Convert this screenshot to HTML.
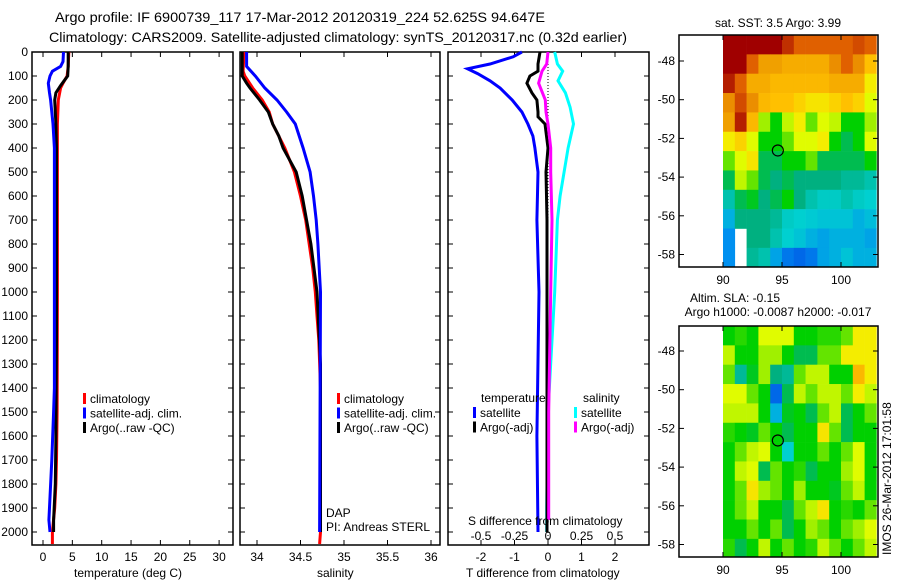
<!DOCTYPE html>
<html><head><meta charset="utf-8"><style>
body{margin:0;background:#fff;}
svg{display:block;font-family:"Liberation Sans",sans-serif;font-size:12px;}
</style></head><body>
<svg id="fig" width="900" height="580" viewBox="0 0 900 580" xmlns="http://www.w3.org/2000/svg">
<rect width="900" height="580" fill="#fff"/>
<text x="55" y="22" font-size="14" textLength="490" lengthAdjust="spacingAndGlyphs">Argo profile: IF 6900739_117 17-Mar-2012 20120319_224 52.625S 94.647E</text>
<text x="49" y="42" font-size="14" textLength="578" lengthAdjust="spacingAndGlyphs">Climatology: CARS2009. Satellite-adjusted climatology: synTS_20120317.nc (0.32d earlier)</text>
<g id="panels"></g>
<g id="maps"></g>
<text transform="translate(891,555) rotate(-90)" font-size="12">IMOS 26-Mar-2012 17:01:58</text>
</svg>
<script>
// ---- profile data (depth dbar, value) ----
const tClimDepth=[0,60,100,130,150,200,300,500,1000,1500,1700,1800,1900,2000,2050];
const tClimVal=[4.4,4.3,4.1,3.4,3.0,2.6,2.45,2.45,2.45,2.4,2.3,2.2,2.0,1.6,1.6];
const tArgoDepth=[0,60,100,120,140,170,200,300,400,800,1200,1600,1800,1950,2000];
const tArgoVal=[4.3,4.3,4.2,3.6,3.0,2.2,2.0,2.2,2.3,2.3,2.3,2.2,2.1,1.8,1.8];
const tSatDepth=[0,40,60,80,100,130,170,200,300,400,800,1400,1500,1700,1950,2000];
const tSatVal=[3.5,3.4,3.0,1.6,1.2,0.9,1.1,1.3,1.7,1.95,1.95,1.95,1.8,1.5,1.0,1.2];
const sClimDepth=[0,80,100,150,200,250,300,400,500,600,700,800,900,1000,1100,1200,1400,2000,2050];
const sClimVal=[33.85,33.84,33.86,33.95,34.06,34.14,34.18,34.32,34.43,34.5,34.56,34.6,34.64,34.67,34.69,34.71,34.73,34.73,34.72];
const sArgoDepth=[0,100,130,150,200,250,300,350,400,500,600,800,1000,1300,2000];
const sArgoVal=[33.83,33.83,33.88,33.92,34.03,34.13,34.18,34.25,34.3,34.45,34.52,34.62,34.69,34.73,34.73];
const sSatDepth=[0,60,100,150,200,250,300,400,500,600,700,800,1000,2000];
const sSatVal=[33.88,33.88,33.98,34.09,34.23,34.34,34.44,34.53,34.61,34.65,34.68,34.7,34.73,34.72];
const dTSatDepth=[0,20,50,70,90,120,150,200,250,300,350,400,500,700,1000,1600,2000];
const dTSatVal=[-0.78,-1.04,-1.73,-2.4,-2.1,-1.73,-1.43,-1.07,-0.78,-0.6,-0.45,-0.39,-0.3,-0.33,-0.27,-0.33,-0.3];
const dTArgoDepth=[0,50,80,100,130,170,200,250,270,300,400,500,700,1000,2000];
const dTArgoVal=[-0.24,-0.3,-0.3,-0.54,-0.63,-0.48,-0.33,-0.3,-0.3,-0.09,0.0,-0.06,-0.03,-0.03,-0.03];
const dSArgoDepth=[0,50,80,130,200,250,300,400,500,700,1000,1500,1950];
const dSArgoVal=[0,-0.01,-0.045,-0.07,-0.02,-0.015,0,0.02,0.02,0.03,0.02,0.005,0.005];
const dSSatDepth=[0,50,80,120,170,230,300,400,500,600,700,1000,1500,1900,2000];
const dSSatVal=[0.05,0.07,0.11,0.075,0.13,0.165,0.19,0.15,0.12,0.09,0.07,0.05,0.0,-0.01,-0.01];
const depthTicks=[0,100,200,300,400,500,600,700,800,900,1000,1100,1200,1300,1400,1500,1600,1700,1800,1900,2000];
const tTicks=[0,5,10,15,20,25,30];
const sTicks=[34,34.5,35,35.5,36];
const dTTicks=[-2,-1,0,1,2];
const dSTicks=[-0.5,-0.25,0,0.25,0.5];

// ---- map data (rows lat -46.7 downward 1°, cols lon 90..102) ----
const sstGrid=[
[1,1,1,1,1,.92,.85,.85,.85,.85,.85,.88,.85],
[1,1,.85,.78,.78,.75,.75,.75,.75,.8,.85,.8,.7],
[.95,.85,.75,.75,.72,.72,.72,.72,.72,.75,.75,.75,.65],
[.8,.88,.8,.72,.7,.7,.68,.66,.66,.68,.7,.68,.62],
[.78,.95,.72,.58,.5,.6,.65,.55,.62,.6,.5,.5,.58],
[.65,.68,.62,.5,.5,.55,.62,.62,.65,.5,.45,.5,.62],
[.55,.62,.66,.45,.45,.5,.5,.55,.45,.45,.45,.45,.5],
[.45,.6,.55,.45,.42,.45,.42,.42,.42,.42,.4,.4,.38],
[.38,.45,.48,.42,.45,.5,.42,.38,.36,.36,.38,.36,.35],
[.3,.42,.42,.42,.4,.36,.35,.34,.33,.33,.33,.3,.32],
[.25,null,.42,.42,.38,.35,.33,.3,.28,.3,.3,.3,.28],
[.25,null,.4,.38,.28,.22,.2,.22,.28,.3,.33,.3,.3]];
const slaGrid=[
[.5,.52,.5,.62,.62,.62,.5,.5,.52,.52,.55,.65,.65],
[.6,.5,.5,.58,.58,.5,.45,.45,.55,.55,.65,.65,.65],
[.55,.4,.48,.58,.42,.4,.55,.6,.6,.5,.5,.72,.65],
[.62,.62,.55,.5,.2,.45,.6,.55,.6,.6,.55,.65,.6],
[.6,.6,.6,.5,.3,.48,.5,.45,.55,.6,.45,.5,.55],
[.52,.5,.48,.55,.5,.45,.5,.5,.66,.55,.45,.5,.5],
[.5,.55,.6,.62,.5,.35,.5,.5,.55,.5,.55,.62,.5],
[.5,.6,.62,.45,.55,.5,.52,.45,.5,.5,.58,.62,.5],
[.5,.55,.66,.58,.55,.5,.58,.5,.5,.48,.55,.6,.5],
[.5,.55,.6,.5,.5,.45,.55,.6,.66,.5,.52,.5,.55],
[.5,.5,.55,.5,.55,.45,.5,.58,.55,.5,.55,.58,.62],
[.52,.45,.5,.6,.5,.55,.5,.52,.6,.55,.5,.55,.6]];
const latTicks=[-48,-50,-52,-54,-56,-58];
const lonTicks=[90,95,100];
const argoLon=94.647, argoLat=-52.625;

const NS='http://www.w3.org/2000/svg';
function mk(tag,attrs,parent,text){const e=document.createElementNS(NS,tag);for(const k in attrs)e.setAttribute(k,attrs[k]);if(text!==undefined)e.textContent=text;parent.appendChild(e);return e;}
const P=document.getElementById('panels');
const Y=d=>52+d*0.24;
const TOP=52,BOT=545;

function panel(name,x0,x1,sx,xt,xtLabels){
  const g=mk('g',{},P);
  
  
  const r=mk('rect',{x:x0,y:TOP,width:x1-x0,height:BOT-TOP,fill:'none',stroke:'#000','stroke-width':1.5},g);
  
  
  xt.forEach((v,i)=>{const x=sx(v);
    mk('line',{x1:x,x2:x,y1:TOP,y2:TOP+5,stroke:'#000'},g);
    mk('line',{x1:x,x2:x,y1:BOT,y2:BOT-5,stroke:'#000'},g);
    if(xtLabels){const t=mk('text',{x:x,y:561,'text-anchor':'middle'},g,xtLabels[i]);
      
      }
  });
  depthTicks.forEach(d=>{mk('line',{x1:x0,x2:x0+5,y1:Y(d),y2:Y(d),stroke:'#000'},g);mk('line',{x1:x1,x2:x1-5,y1:Y(d),y2:Y(d),stroke:'#000'},g);});
  return g;
}
function line(g,name,depths,vals,sx,col){
  const pts=depths.map((d,i)=>sx(vals[i]).toFixed(1)+','+Y(d).toFixed(1)).join(' ');
  const l=mk('polyline',{points:pts,fill:'none',stroke:col,'stroke-width':3,'stroke-linejoin':'miter'},g);
  
  
}
function legend(g,items,x,y0){
  items.forEach((it,i)=>{const y=y0+i*14.5;
    mk('rect',{x:x,y:y-6,width:3,height:11,fill:it[1]},g);
    const t=mk('text',{x:x+7,y:y+4},g,it[0]);
    
    });
}
depthTicks.forEach(d=>{const t=mk('text',{x:28,y:Y(d)+4,'text-anchor':'end'},P,String(d));
  
  });

const sT=v=>43+v*5.87;
const g1=panel('temperature-panel',32,233,sT,tTicks,tTicks.map(String));
line(g1,'temp-climatology',tClimDepth,tClimVal,sT,'#f00');
line(g1,'temp-argo',tArgoDepth,tArgoVal,sT,'#000');
line(g1,'temp-satellite',tSatDepth,tSatVal,sT,'#00f');
legend(g1,[['climatology','#f00'],['satellite-adj. clim.','#00f'],['Argo(..raw -QC)','#000']],83,399);
let t=mk('text',{x:74,y:577},g1,'temperature (deg C)');



const sS=v=>257+(v-34)*87;
const g2=panel('salinity-panel',240,440,sS,[34,34.5,35,35.5,36],sTicks.map(String));
line(g2,'sal-climatology',sClimDepth,sClimVal,sS,'#f00');
line(g2,'sal-argo',sArgoDepth,sArgoVal,sS,'#000');
line(g2,'sal-satellite',sSatDepth,sSatVal,sS,'#00f');
legend(g2,[['climatology','#f00'],['satellite-adj. clim.','#00f'],['Argo(..raw -QC)','#000']],337,399);
t=mk('text',{x:326,y:517},g2,'DAP');


t=mk('text',{x:326,y:531},g2,'PI: Andreas STERL');


t=mk('text',{x:317,y:577},g2,'salinity');



const sD=v=>548+v*33.5;
const sDS=v=>548+v*134;
const g3=panel('difference-panel',448,649,sD,dTTicks,dTTicks.map(String));
mk('line',{x1:548,x2:548,y1:TOP,y2:BOT,stroke:'#000','stroke-dasharray':'1,2'},g3);
line(g3,'dT-satellite',dTSatDepth,dTSatVal,sD,'#00f');
line(g3,'dS-satellite',dSSatDepth,dSSatVal,sDS,'#0ff');
line(g3,'dT-argo',dTArgoDepth,dTArgoVal,sD,'#000');
line(g3,'dS-argo',dSArgoDepth,dSArgoVal,sDS,'#f0f');
mk('text',{x:481,y:402},g3,'temperature');
mk('text',{x:583,y:402},g3,'salinity');
legend(g3,[['satellite','#00f'],['Argo(-adj)','#000']],473,413);
legend(g3,[['satellite','#0ff'],['Argo(-adj)','#f0f']],574,413);
t=mk('text',{x:468,y:525},g3,'S difference from climatology');


dSTicks.forEach(v=>{const e=mk('text',{x:sDS(v),y:540,'text-anchor':'middle'},g3,String(v));
  
  });
t=mk('text',{x:466,y:577},g3,'T difference from climatology');



// ---- maps ----
const M=document.getElementById('maps');
const palStops=[0,.15,.25,.35,.42,.5,.58,.63,.7,.78,.85,.92,1];
const palCols=[[0,0,160],[0,64,224],[0,144,240],[0,208,208],[0,176,128],[0,208,0],[160,240,0],[240,255,0],[255,192,0],[240,160,0],[224,96,0],[192,48,0],[160,0,0]];
function pal(v){
  for(let i=1;i<palStops.length;i++){if(v<=palStops[i]){const f=(v-palStops[i-1])/(palStops[i]-palStops[i-1]);
    const a=palCols[i-1],b=palCols[i];return `rgb(${a.map((c,k)=>Math.round(c+(b[k]-c)*f)).join(',')})`;}}
  return 'rgb(160,0,0)';
}
function map(name,grid,top,bot,lat48y,titles){
  const g=mk('g',{},M);
  
  
  const lx=v=>723+(v-90)*11.8;
  const ly=v=>lat48y+(-48-v)*19.35;
  const latTop=-48+(lat48y-top)/19.35;
  grid.forEach((row,r)=>row.forEach((v,c)=>{
    if(v===null)return;
    const y0=ly(latTop-r), y1=Math.min(bot,ly(latTop-r-1));
    const x1=Math.min(878,lx(90+c+1));
    const cell=mk('rect',{x:lx(90+c),y:y0,width:x1-lx(90+c)+0.3,height:y1-y0+0.3,fill:pal(v)},g);
    
    
  }));
  mk('rect',{x:679,y:top,width:199,height:bot-top,fill:'none',stroke:'#000','stroke-width':1.5},g);
  latTicks.forEach(v=>{const y=ly(v);mk('line',{x1:679,x2:684,y1:y,y2:y,stroke:'#000'},g);mk('line',{x1:878,x2:873,y1:y,y2:y,stroke:'#000'},g);
    const e=mk('text',{x:675,y:y+4,'text-anchor':'end'},g,String(v));
    
    });
  lonTicks.forEach(v=>{const x=lx(v);mk('line',{x1:x,x2:x,y1:top,y2:top+5,stroke:'#000'},g);mk('line',{x1:x,x2:x,y1:bot,y2:bot-5,stroke:'#000'},g);
    const e=mk('text',{x:x,y:bot+17,'text-anchor':'middle'},g,String(v));
    
    });
  const c=mk('circle',{cx:lx(argoLon),cy:ly(argoLat),r:5.5,fill:'none',stroke:'#000','stroke-width':1.2},g);
  
  
  titles.forEach(tt=>{const e=mk('text',{x:tt[1],y:tt[2],'text-anchor':'middle'},g,tt[0]);
    
    });
}
map('sst-map',sstGrid,35,267,61,[['sat. SST: 3.5 Argo: 3.99',778,27]]);
map('sla-map',slaGrid,326,557,351,[['Altim. SLA: -0.15',735,302],['Argo h1000: -0.0087 h2000: -0.017',778,316]]);
</script>
</body></html>
